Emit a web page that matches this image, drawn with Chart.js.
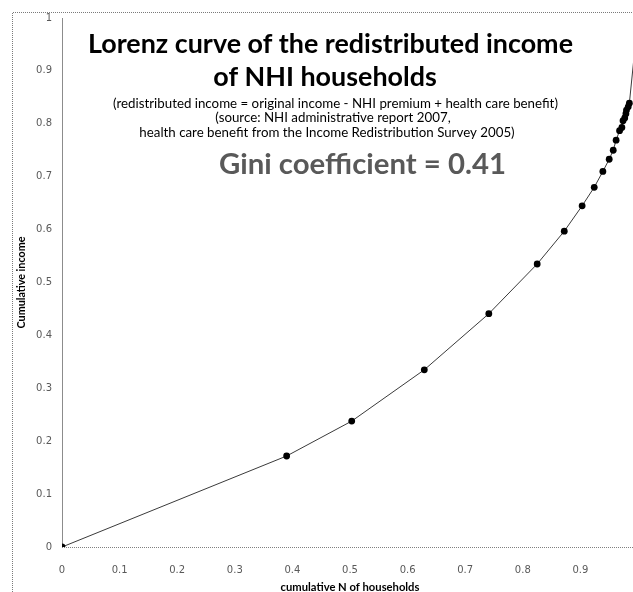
<!DOCTYPE html>
<html>
<head>
<meta charset="utf-8">
<script src="https://cdn.jsdelivr.net/npm/chart.js@4/dist/chart.umd.min.js"></script>
<style>
  html, body { margin: 0; padding: 0; background: #fff; overflow: hidden; width: 633px; height: 592px; }
  #wrap { position: absolute; left: 0; top: 0; width: 680px; height: 600px; }
</style>
</head>
<body>
<div id="wrap"><canvas id="c" width="680" height="600"></canvas></div>
<script>
// ---- data ----
const cumHouseholds = [0, 0.390, 0.503, 0.629, 0.741, 0.825, 0.872, 0.903, 0.924, 0.939, 0.950, 0.957, 0.962, 0.968, 0.972, 0.974, 0.977, 0.979, 0.980, 0.983, 0.985, 1];
const cumIncome     = [0, 0.172, 0.238, 0.335, 0.441, 0.535, 0.597, 0.645, 0.680, 0.710, 0.733, 0.750, 0.769, 0.787, 0.793, 0.806, 0.811, 0.819, 0.826, 0.832, 0.839, 1];
const xTickLabels = ['0', '0.1', '0.2', '0.3', '0.4', '0.5', '0.6', '0.7', '0.8', '0.9', '1'];
const yTickLabels = ['0', '0.1', '0.2', '0.3', '0.4', '0.5', '0.6', '0.7', '0.8', '0.9', '1'];
const titleLines = ['Lorenz curve of the redistributed income', 'of NHI households'];
const noteLines = [
  '(redistributed income = original income - NHI premium + health care benefit)',
  '(source: NHI administrative report 2007,',
  'health care benefit from the Income Redistribution Survey 2005)'
];
const giniText = 'Gini coefficient = 0.41';
const xAxisTitle = 'cumulative N of households';
const yAxisTitle = 'Cumulative income';

const FAMILY = 'Lato, "Open Sans", "Liberation Sans", sans-serif';
const mctx = document.createElement('canvas').getContext('2d');
function fitSize(text, weight, width) {
  mctx.font = weight + ' 100px ' + FAMILY;
  return 100 * width / mctx.measureText(text).width;
}
const titleSize = fitSize(titleLines[0], 'bold', 485);
const noteSize = fitSize(noteLines[0], 'normal', 445);
const giniSize = fitSize(giniText, 'bold', 287);

const points = cumHouseholds.map((x, i) => ({ x: x, y: cumIncome[i] }));

// text overlay layout: [text, centerX, baselineY, fontSize, weight, colour]
const overlay = [
  [titleLines[0], 330.5, 52.5, titleSize, 'bold', '#000'],
  [titleLines[1], 325, 86, titleSize, 'bold', '#000'],
  [noteLines[0], 335.5, 107.5, noteSize, 'normal', '#000'],
  [noteLines[1], 333, 122, noteSize, 'normal', '#000'],
  [noteLines[2], 327, 137, noteSize, 'normal', '#000'],
  [giniText, 362.5, 174, giniSize, 'bold', '#595959']
];

const overlayPlugin = {
  id: 'overlay',
  beforeDraw(chart) {
    const ctx = chart.ctx;
    ctx.save();
    ctx.strokeStyle = '#7a7a7a';
    ctx.lineWidth = 1;
    ctx.setLineDash([1, 1]);
    ctx.beginPath();
    ctx.moveTo(12.5, chart.height + 10);
    ctx.lineTo(12.5, 12.5);
    ctx.lineTo(chart.width + 10, 12.5);
    ctx.stroke();
    ctx.restore();
  },
  beforeDatasetsDraw(chart) {
    // dotted horizontal axis line at y = 0
    const ctx = chart.ctx;
    const y0 = Math.round(chart.scales.y.getPixelForValue(0)) + 0.5;
    ctx.save();
    ctx.strokeStyle = '#808080';
    ctx.lineWidth = 1;
    ctx.setLineDash([1, 1]);
    ctx.beginPath();
    ctx.moveTo(chart.chartArea.left, y0);
    ctx.lineTo(chart.chartArea.right, y0);
    ctx.stroke();
    ctx.restore();
  },
  afterDraw(chart) {
    const ctx = chart.ctx;
    ctx.save();
    ctx.textAlign = 'center';
    ctx.textBaseline = 'alphabetic';
    for (const [t, cx, by, s, weight, col] of overlay) {
      ctx.font = weight + ' ' + s.toFixed(2) + 'px ' + FAMILY;
      ctx.fillStyle = col;
      ctx.fillText(t, cx, by);
    }
    ctx.restore();
  }
};

new Chart(document.getElementById('c'), {
  type: 'scatter',
  data: {
    datasets: [{
      data: points,
      showLine: true,
      borderColor: '#3a3a3a',
      borderWidth: 1,
      pointRadius: 3.4,
      pointBackgroundColor: '#000',
      pointBorderColor: '#000',
      pointBorderWidth: 0,
      tension: 0
    }]
  },
  options: {
    responsive: false,
    animation: false,
    devicePixelRatio: 1,
    layout: { padding: { left: 12, top: 18, right: 42, bottom: 0 } },
    plugins: { legend: { display: false }, tooltip: { enabled: false }, title: { display: false } },
    scales: {
      x: {
        type: 'linear', min: 0, max: 1,
        afterFit(s) { s.height = 53; },
        grid: { display: false, drawTicks: false },
        border: { display: false },
        ticks: {
          stepSize: 0.1, padding: 17, color: '#595959', maxRotation: 0,
          font: { family: '"DejaVu Sans", sans-serif', size: 10 },
          callback: (v) => xTickLabels[Math.round(v * 10)]
        },
        title: {
          display: true, text: xAxisTitle, color: '#000',
          padding: { top: 0, bottom: 6 },
          font: { family: FAMILY, weight: 'bold', size: fitSize(xAxisTitle, 'bold', 139) }
        }
      },
      y: {
        type: 'linear', min: 0, max: 1,
        afterFit(s) { s.width = 50; },
        grid: { display: false, drawTicks: false },
        border: { display: true, color: '#8c8c8c', width: 1 },
        ticks: {
          stepSize: 0.1, padding: 10, color: '#595959',
          font: { family: '"DejaVu Sans", sans-serif', size: 10 },
          callback: (v) => yTickLabels[Math.round(v * 10)]
        },
        title: {
          display: true, text: yAxisTitle, color: '#000',
          padding: { top: 3, bottom: 0 },
          font: { family: FAMILY, weight: 'bold', size: fitSize(yAxisTitle, 'bold', 92) }
        }
      }
    }
  },
  plugins: [overlayPlugin]
});
</script>
</body>
</html>
